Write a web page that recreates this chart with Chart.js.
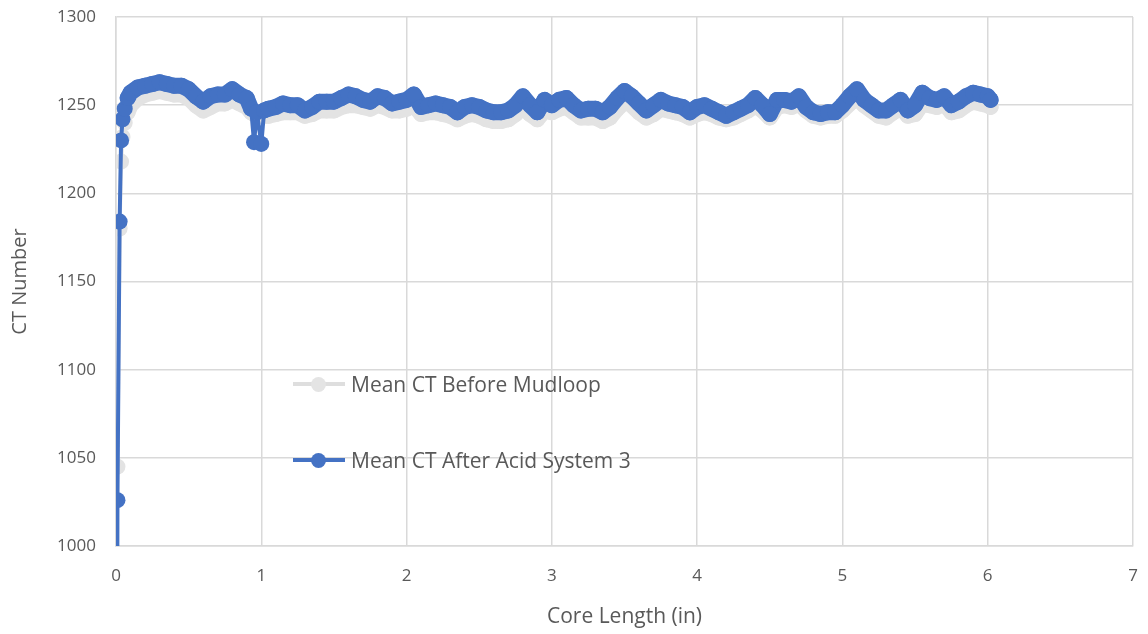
<!DOCTYPE html>
<html>
<head>
<meta charset="utf-8">
<title>Mean CT</title>
<script src="https://cdn.jsdelivr.net/npm/chart.js@4.4.1/dist/chart.umd.min.js"></script>
<style>
    body { margin: 0; background: #fff; }
    .wrap { position: relative; width: 1148px; height: 634px; }
    .legend { position: absolute; left: 293px; top: 0; font-family: "Open Sans", sans-serif; font-size: 21px; color: #595959; }
    .legend .item { position: absolute; left: 0; white-space: nowrap; display: flex; align-items: center; }
    .legend .swatch { position: relative; width: 52px; height: 20px; margin-right: 6px; }
    .legend .swatch i { position: absolute; left: 0; right: 0; top: 8px; height: 4px; }
    .legend .swatch b { position: absolute; left: 18px; top: 3px; width: 15px; height: 15px; border-radius: 50%; }
</style>
</head>
<body>
<div class="wrap">
    <canvas id="ctChart" width="1148" height="634"></canvas>
    <div class="legend">
        <div class="item" style="top:370px">
            <span class="swatch"><i style="background:#dedede"></i><b style="background:#e4e4e4"></b></span>Mean CT Before Mudloop
        </div>
        <div class="item" style="top:446px">
            <span class="swatch"><i style="background:#4472c4"></i><b style="background:#4472c4"></b></span>Mean CT After Acid System 3
        </div>
    </div>
</div>
<script>
// data
const coreLength = [
    0, 0.01, 0.025, 0.035, 0.045, 0.06, 0.08, 0.1,
    0.15, 0.2, 0.25, 0.3, 0.35, 0.4, 0.45, 0.5, 0.55, 0.6, 0.65, 0.7, 0.75, 0.8, 0.85, 0.9,
    0.93, 0.95, 0.97, 1.0, 1.02,
    1.05, 1.1, 1.15, 1.2, 1.25, 1.3, 1.35, 1.4, 1.45, 1.5, 1.55, 1.6, 1.65, 1.7, 1.75, 1.8, 1.85, 1.9, 1.95,
    2.0, 2.05, 2.1, 2.15, 2.2, 2.25, 2.3, 2.35, 2.4, 2.45, 2.5, 2.55, 2.6, 2.65, 2.7, 2.75, 2.8, 2.85, 2.9, 2.95,
    3.0, 3.05, 3.1, 3.15, 3.2, 3.25, 3.3, 3.35, 3.4, 3.45, 3.5, 3.55, 3.6, 3.65, 3.7, 3.75, 3.8, 3.85, 3.9, 3.95,
    4.0, 4.05, 4.1, 4.15, 4.2, 4.25, 4.3, 4.35, 4.4, 4.45, 4.5, 4.55, 4.6, 4.65, 4.7, 4.75, 4.8, 4.85, 4.9, 4.95,
    5.0, 5.05, 5.1, 5.15, 5.2, 5.25, 5.3, 5.35, 5.4, 5.45, 5.5, 5.55, 5.6, 5.65, 5.7, 5.75, 5.8, 5.85, 5.9, 5.95,
    6.0, 6.02
];

const ctBefore = [
    1045, 1045, 1180, 1218, 1232, 1240, 1246, 1250,
    1254, 1256, 1257, 1258, 1257, 1256, 1256, 1254, 1250, 1247, 1249, 1251, 1251, 1253, 1251, 1249,
    1246, 1245, 1245, 1244, 1244,
    1244, 1245, 1246, 1246, 1246, 1244, 1245, 1247, 1247, 1247, 1249, 1250, 1250, 1249, 1248, 1250, 1249, 1247, 1247,
    1248, 1250, 1245, 1246, 1246, 1245, 1244, 1242, 1244, 1245, 1244, 1242, 1241, 1241, 1242, 1245, 1249, 1245, 1242, 1247,
    1246, 1248, 1249, 1246, 1243, 1243, 1243, 1241, 1243, 1248, 1252, 1250, 1246, 1243, 1245, 1248, 1247, 1246, 1245, 1243,
    1245, 1246, 1245, 1243, 1242, 1243, 1245, 1247, 1250, 1247, 1243, 1249, 1250, 1249, 1251, 1247, 1244, 1243, 1244, 1244,
    1247, 1251, 1254, 1250, 1247, 1244, 1243, 1246, 1249, 1244, 1245, 1251, 1250, 1249, 1251, 1246, 1247, 1250, 1252, 1251,
    1250, 1249
];

const ctAfter = [
    600, 1026, 1184, 1230, 1242, 1248, 1254, 1257,
    1260, 1261, 1262, 1263, 1262, 1261, 1261, 1259, 1255, 1252, 1255, 1256, 1256, 1259, 1256, 1254,
    1248, 1229, 1246, 1228, 1247,
    1248, 1249, 1251, 1250, 1250, 1247, 1249, 1252, 1252, 1252, 1254, 1256, 1255, 1253, 1252, 1255, 1254, 1251, 1252,
    1253, 1256, 1249, 1250, 1251, 1250, 1249, 1246, 1249, 1250, 1249, 1247, 1246, 1246, 1247, 1250, 1255, 1250, 1246, 1253,
    1250, 1253, 1254, 1250, 1247, 1248, 1248, 1246, 1249, 1254, 1258, 1255, 1251, 1247, 1250, 1253, 1251, 1250, 1249, 1246,
    1249, 1250, 1248, 1246, 1244, 1246, 1248, 1250, 1254, 1250, 1245, 1253, 1253, 1252, 1255, 1249, 1246, 1245, 1246, 1246,
    1250, 1255, 1259, 1253, 1250, 1247, 1247, 1250, 1253, 1247, 1250, 1257, 1254, 1253, 1255, 1250, 1252, 1255, 1257, 1256,
    1255, 1253
];

const xTicks = [0, 1, 2, 3, 4, 5, 6, 7];
const yTicks = [1000, 1050, 1100, 1150, 1200, 1250, 1300];

const blue = '#4472c4';
const grey = '#e3e3e3';
const textColor = '#595959';
const gridColor = '#d9d9d9';

function toPoints(values) {
    return coreLength.map((x, i) => ({ x: x, y: values[i] }));
}

// the markers sit so close in the original that the plateau reads as one thick band;
// thicken only the plateau segments so the steep start and the dip stay thin lines
function bandWidth(seg) {
    const a = seg.p0.parsed.y, b = seg.p1.parsed.y;
    return (a > 1240 && b > 1240 && seg.p0.parsed.x > 0.07) ? 16 : 4;
}

const ctx = document.getElementById('ctChart');

new Chart(ctx, {
    type: 'line',
    data: {
        datasets: [
            {
                label: 'Mean CT After Acid System 3',
                data: toPoints(ctAfter),
                borderColor: blue,
                backgroundColor: blue,
                borderWidth: 4,
                borderCapStyle: 'round',
                borderJoinStyle: 'round',
                segment: { borderWidth: bandWidth },
                pointRadius: 8,
                pointBorderWidth: 0,
                order: 1
            },
            {
                label: 'Mean CT Before Mudloop',
                data: toPoints(ctBefore),
                borderColor: grey,
                backgroundColor: grey,
                borderWidth: 4,
                borderCapStyle: 'round',
                borderJoinStyle: 'round',
                segment: { borderWidth: bandWidth },
                pointRadius: 8,
                pointBorderWidth: 0,
                order: 2
            }
        ]
    },
    options: {
        responsive: false,
        animation: false,
        layout: { padding: { top: 17, right: 15, left: 0, bottom: 0 } },
        plugins: {
            legend: { display: false },
            tooltip: { enabled: false }
        },
        scales: {
            x: {
                type: 'linear',
                min: 0,
                max: 7,
                afterBuildTicks: axis => { axis.ticks = xTicks.map(v => ({ value: v })); },
                afterFit: axis => {
                    // pin the plot edges, let the labels overhang
                    axis.height = 88;
                    axis.paddingLeft = 0;
                    axis.paddingRight = 0;
                },
                grid: { color: gridColor, lineWidth: 1.5, drawTicks: false },
                border: { color: gridColor, width: 1.5 },
                ticks: { color: textColor, font: { family: 'Open Sans', size: 17 }, padding: 20, callback: v => String(v) },
                title: { display: true, text: 'Core Length (in)', color: textColor, font: { family: 'Open Sans', size: 21 }, padding: { top: 2 } }
            },
            y: {
                min: 1000,
                max: 1300,
                afterBuildTicks: axis => { axis.ticks = yTicks.map(v => ({ value: v })); },
                afterFit: axis => {
                    axis.width = 116;
                    axis.paddingTop = 0;
                    axis.paddingBottom = 0;
                },
                grid: { color: gridColor, lineWidth: 1.5, drawTicks: false },
                border: { color: gridColor, width: 1.5 },
                ticks: { color: textColor, font: { family: 'Open Sans', size: 17 }, padding: 20, callback: v => String(v) },
                title: { display: true, text: 'CT Number', color: textColor, font: { family: 'Open Sans', size: 20 }, padding: { top: 8, bottom: 0 } }
            }
        }
    }
});
</script>
</body>
</html>
